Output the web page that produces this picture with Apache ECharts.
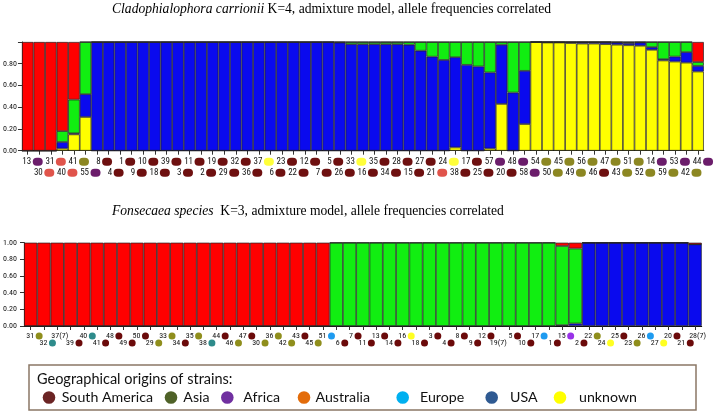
<!DOCTYPE html>
<html><head><meta charset="utf-8">
<script src="https://cdn.jsdelivr.net/npm/echarts@6/dist/echarts.min.js"></script>
<style>html,body{margin:0;padding:0;background:#fff}#c{width:716px;height:413px}</style>
</head><body><div id="c"></div>
<script>
// ---------- Top panel: Cladophialophora carrionii, K=4 ----------
const topStrains = ['13','30','31','40','41','55','8','4','1','9','10','18','39','3','11','2','19','29','32','36','37','6','23','22','12','7','5','26','33','16','35','34','28','15','27','21','24','38','17','25','57','20','48','58','54','50','45','49','56','46','47','43','51','52','14','59','53','42','44'];
const topOrigins = ['AF','AU','AU','AU','AS','AF','SA','SA','SA','SA','SA','SA','SA','SA','SA','SA','SA','SA','SA','SA','UN','SA','SA','SA','SA','SA','SA','SA','UN','SA','SA','SA','SA','SA','SA','AU','UN','SA','SA','SA','AF','SA','AF','AF','AS','AS','AS','AS','AS','SA','AS','AS','AS','AS','AF','AS','AF','AS','AF'];
const topYellow = [0,0,0,0.02,0.15,0.31, 0,0,0,0,0,0,0,0,0,0,0,0,0,0,0,0,0,0,0,0,0, 0,0,0,0,0,0,0,0,0,0,0.03,0,0,0.02,0.43,0,0.245, 1,0.995,0.995,0.99,0.985,0.985,0.98,0.975,0.97,0.965,0.928,0.83,0.82,0.81,0.728];
const topBlue   = [0,0,0,0.06,0.01,0.21, 1,1,1,1,1,1,1,1,1,1,1,1,1,1,1,1,1,1,1,1,1, 0.995,0.98,0.98,0.98,0.98,0.98,0.975,0.92,0.865,0.835,0.83,0.79,0.775,0.70,0.545,0.535,0.49, 0,0.005,0.005,0.01,0.015,0.015,0.02,0.02,0.02,0.03,0.025,0.012,0.046,0.097,0.052];
const topGreen  = [0,0,0,0.10,0.31,0.48, 0,0,0,0,0,0,0,0,0,0,0,0,0,0,0,0,0,0,0,0,0, 0.005,0.02,0.02,0.02,0.02,0.02,0.025,0.08,0.135,0.165,0.14,0.21,0.225,0.28,0.025,0.465,0.265, 0,0,0,0,0,0,0,0.005,0.01,0.005,0.047,0.158,0.134,0.093,0.035];
const topRed    = [1,1,1,0.82,0.53,0, 0,0,0,0,0,0,0,0,0,0,0,0,0,0,0,0,0,0,0,0,0, 0,0,0,0,0,0,0,0,0,0,0,0,0,0,0,0,0, 0,0,0,0,0,0,0,0,0,0,0,0,0,0,0.185];

// ---------- Bottom panel: Fonsecaea species, K=3 ----------
const botStrains = ['31','32','37(7)','39','40','41','48','49','50','29','33','34','35','38','44','46','47','30','36','42','43','45','51','6','7','11','13','14','16','18','3','4','8','9','12','19(7)','5','10','17','1','15','2','22','24','25','23','26','27','20','21','28(7)'];
const botOrigins = ['AS','US','','SA','US','SA','SA','SA','SA','AS','AS','SA','AS','US','SA','AS','SA','AS','AS','AS','SA','AS','EU','SA','SA','SA','SA','SA','UN','SA','SA','SA','SA','SA','SA','','SA','SA','EU','SA','AF','SA','AS','UN','SA','AS','EU','UN','SA','SA',''];
const botBlue  = [0,0,0,0,0,0,0,0,0,0,0,0,0,0,0,0,0,0,0,0,0,0,0, 0,0,0,0,0,0,0,0,0,0,0,0,0,0,0,0,0,0.01,0.03, 1,1,1,1,1,1,1,1,0.98];
const botGreen = [0,0,0,0,0,0,0,0,0,0,0,0,0,0,0,0,0,0,0,0,0,0,0, 1,1,1,1,1,1,1,1,1,1,1,1,1,1,1,1,1,0.95,0.90, 0,0,0,0,0,0,0,0,0];
const botRed   = [1,1,1,1,1,1,1,1,1,1,1,1,1,1,1,1,1,1,1,1,1,1,1, 0,0,0,0,0,0,0,0,0,0,0,0,0,0,0,0,0,0.04,0.07, 0,0,0,0,0,0,0,0,0.02];

// ---------- Legend ----------
const legendTitle = 'Geographical origins of strains:';
const legendKeys  = ['SA','AS','AF','AU','EU','US','UN'];
const legendNames = ['South America','Asia','Africa','Australia','Europe','USA','unknown'];

// ---------- Styles ----------
const topPal = {SA:'#6e1010', AF:'#6b1d6b', AS:'#8c8722', AU:'#e0544b', UN:'#ffff3a'};
const botPal = {SA:'#6b0a0a', AS:'#8f8e1c', US:'#2e8b8b', EU:'#1e9bf0', AF:'#9932e8', UN:'#ffff22'};
const legPal = {SA:'#6b2424', AS:'#4f6228', AF:'#7030a0', AU:'#e36c0a', EU:'#00b0f0', US:'#2f5a92', UN:'#ffff00'};
const legX   = {SA:[49,61.7], AS:[171,183.3], AF:[227.3,243.3], AU:[304,315.5], EU:[402.7,420], US:[491.7,510], UN:[560,579]};
const lblFont = "'Liberation Sans Narrow','Arial Narrow','Roboto Condensed','Liberation Sans',sans-serif";
const legFont = "Lato,'Open Sans',sans-serif";
const titleFont = "'Liberation Serif',serif";
const barCols4 = ['#ffff00','#0a0aee','#11ee11','#ff0000'];
const barCols3 = ['#0a0aee','#11ee11','#ff0000'];

function richFor(pal, tw, ew, eh, fs) {
  const r = {
    t: {fontSize: fs, fontFamily: lblFont, color:'#111', width: tw, align:'right'},
    g: {width: 1.5, align:'right'},
    sp: {width: 7, align:'left'},
    w: {fontSize: fs, fontFamily: lblFont, color:'#111', width: 15, align:'right'}
  };
  Object.keys(pal).forEach(k => {
    r[k] = {width: ew, height: eh, backgroundColor: pal[k], borderRadius: eh/2 + 1, align:'right'};
  });
  return r;
}
function fmt(origins, row) {
  return (val, idx) => {
    if (idx % 2 !== row) return '';
    const o = origins[idx];
    if (!o) return '{sp|}{w|' + val + '}';
    return '{t|' + val + '}{g|}{' + o + '|}';
  };
}

const G0 = {left:21, top:42, width:687, height:108.7};
const G1 = {left:24, top:242.7, width:677.7, height:83.3};

function xAx(grid, data, origins, row, pal, margin, tw, ew, eh, fs, main) {
  return {
    type:'category', gridIndex: grid, data: data, position:'bottom',
    axisLine: {show: main, lineStyle:{color:'#111', width:1}},
    axisTick: {show: main, alignWithLabel:true, length:4, lineStyle:{color:'#333'}},
    axisLabel: {interval:0, margin: margin, formatter: fmt(origins, row), rich: richFor(pal, tw, ew, eh, fs), hideOverlap:false},
    splitLine: {show:false}
  };
}
function yAx(grid, margin, hideTop, fs) {
  return {
    type:'value', gridIndex: grid, min:0, max:1, interval:0.2,
    axisLine:{show:true, lineStyle:{color:'#111'}},
    axisTick:{show:true, length:4, lineStyle:{color:'#333'}},
    splitLine:{show:false},
    axisLabel:{margin: margin, fontSize: fs, fontFamily: lblFont, color:'#111',
      formatter: v => (hideTop && v > 0.99) ? '' : v.toFixed(2)}
  };
}

const series = [];
[topYellow, topBlue, topGreen, topRed].forEach((arr, i) => {
  series.push({type:'bar', xAxisIndex:0, yAxisIndex:0, stack:'top', data: arr,
    barCategoryGap:'0%', itemStyle:{color: barCols4[i], borderColor:'#222', borderWidth:0.7}, silent:true});
});
[botBlue, botGreen, botRed].forEach((arr, i) => {
  series.push({type:'bar', xAxisIndex:2, yAxisIndex:1, stack:'bot', data: arr,
    barCategoryGap:'0%', itemStyle:{color: barCols3[i], borderColor:'#222', borderWidth:0.7}, silent:true});
});

const graphic = [
  {type:'rect', shape:{x:29, y:365, width:667, height:45}, style:{fill:'#fff', stroke:'#8b7765', lineWidth:1.5}},
  {type:'text', x:37, y:379, style:{text: legendTitle, fontSize:14.5, fontFamily: legFont, fill:'#111', textVerticalAlign:'middle'}}
];
legendKeys.forEach((k, i) => {
  graphic.push({type:'circle', shape:{cx: legX[k][0], cy:397.5, r:6.3}, style:{fill: legPal[k]}});
  graphic.push({type:'text', x: legX[k][1], y:397.5, style:{text: legendNames[i], fontSize:14.2, fontFamily: legFont, fill:'#111', textVerticalAlign:'middle'}});
});

function titleStyle() {
  return {fontFamily: titleFont, fontSize:13.6, fontWeight:'normal', color:'#000',
    rich:{i:{fontStyle:'italic', fontFamily: titleFont, fontSize:13.6, color:'#000'}}};
}

const option = {
  animation:false,
  backgroundColor:'#fff',
  title:[
    {left:112, top:2, padding:0, text:'{i|Cladophialophora carrionii} K=4, admixture model, allele frequencies correlated', textStyle: titleStyle()},
    {left:112, top:204, padding:0, text:'{i|Fonsecaea species}  K=3, admixture model, allele frequencies correlated', textStyle: titleStyle()}
  ],
  grid:[G0, G1],
  xAxis:[
    xAx(0, topStrains, topOrigins, 0, topPal, 5, 18.5, 10, 8, 9, true),
    xAx(0, topStrains, topOrigins, 1, topPal, 16, 18.5, 10, 8, 9, false),
    xAx(1, botStrains, botOrigins, 0, botPal, 4, 15.5, 7, 7, 8, true),
    xAx(1, botStrains, botOrigins, 1, botPal, 11, 15.5, 7, 7, 8, false)
  ],
  yAxis:[yAx(0, 5, true, 8), yAx(1, 7, false, 8)],
  series: series,
  graphic: graphic
};
const chart = echarts.init(document.getElementById('c'), null, {renderer:'canvas'});
chart.setOption(option);
</script></body></html>
